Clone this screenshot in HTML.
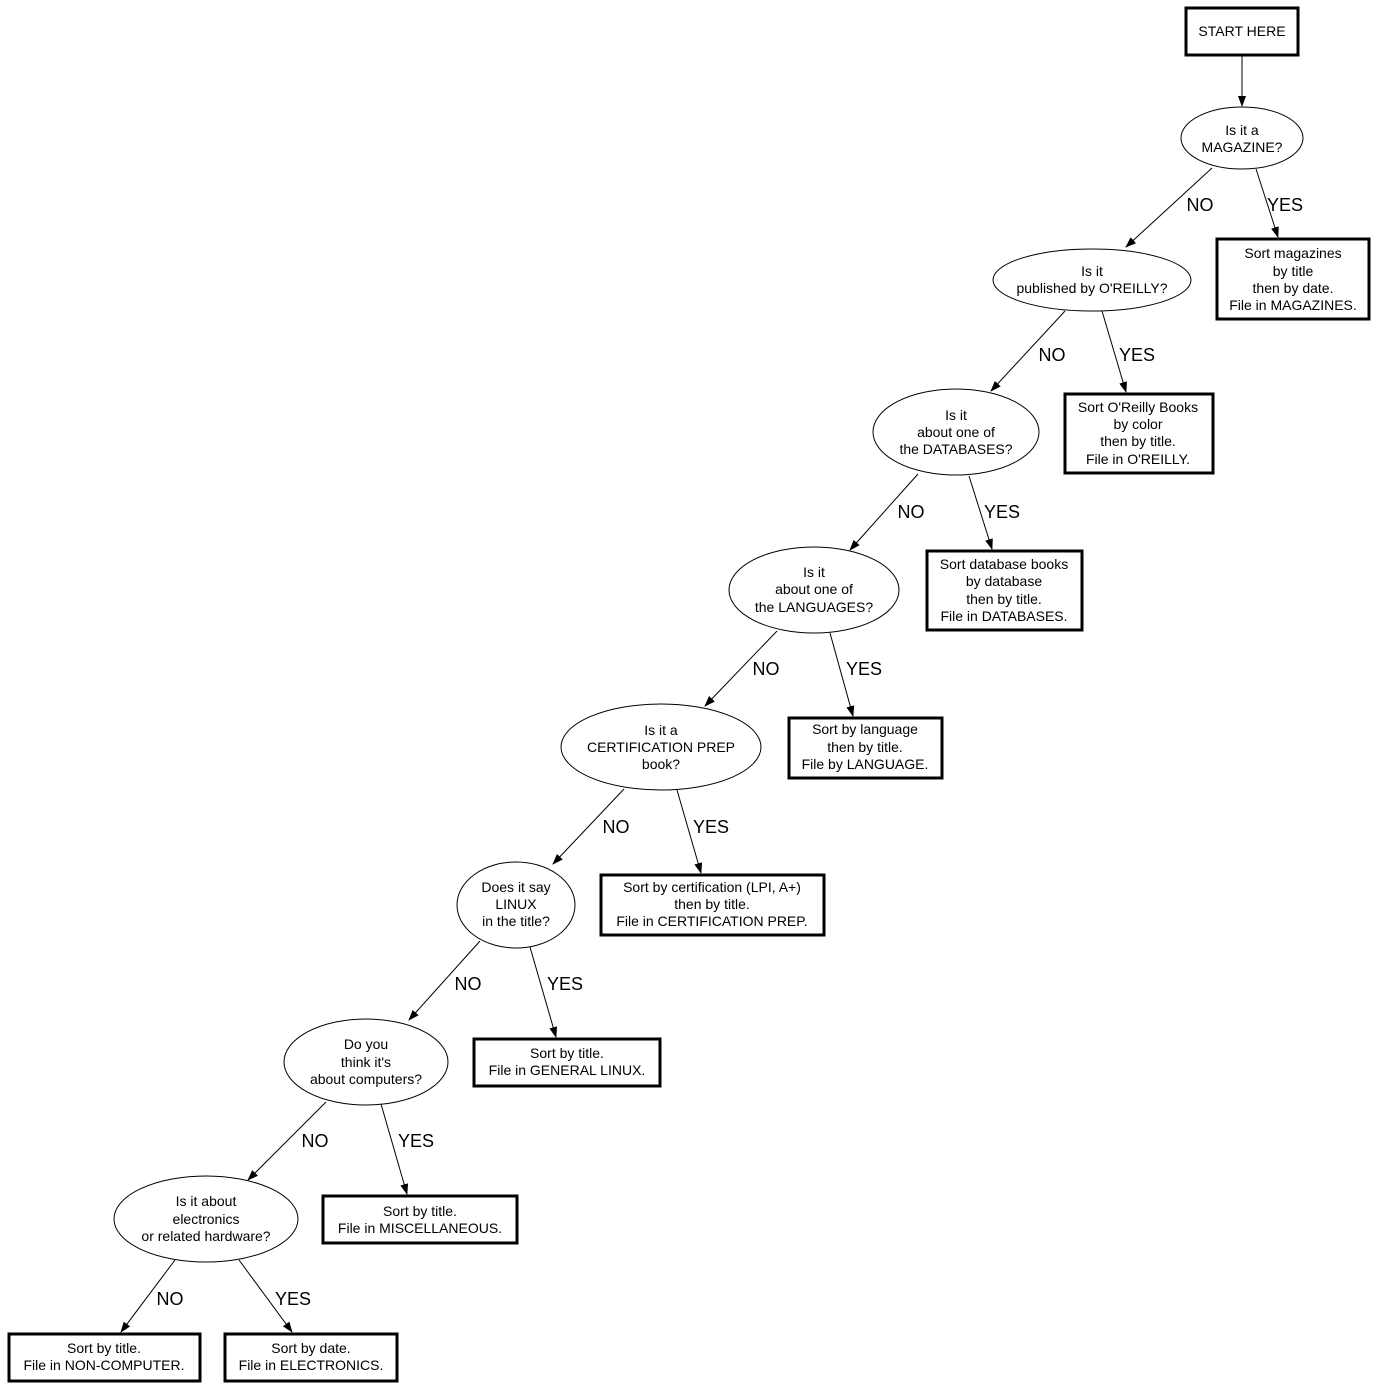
<!DOCTYPE html>
<html><head><meta charset="utf-8"><style>
html,body{margin:0;padding:0;background:#fff}
svg{display:block}
text{font-family:"Liberation Sans",sans-serif;font-size:14px;fill:#000;text-anchor:middle}
.l{font-size:18px;text-anchor:middle}
.b{fill:#fff;stroke:#000;stroke-width:3}
.e{fill:#fff;stroke:#000;stroke-width:1}
line{stroke:#000;stroke-width:1}
</style></head><body>
<svg width="1378" height="1388" viewBox="0 0 1378 1388" xmlns="http://www.w3.org/2000/svg">
<defs><marker id="a" markerWidth="11" markerHeight="8" refX="10" refY="4" orient="auto" markerUnits="userSpaceOnUse"><path d="M0,0 L11,4 L0,8 Z" fill="#000"/></marker></defs>

<rect class="b" x="1186" y="8" width="112" height="47"/>
<text x="1242" y="36">START HERE</text>

<ellipse class="e" cx="1242" cy="138" rx="61" ry="31"/>
<text x="1242" y="135">Is it a</text><text x="1242" y="152">MAGAZINE?</text>

<rect class="b" x="1217" y="239" width="152" height="80"/>
<text x="1293" y="258">Sort magazines</text><text x="1293" y="276">by title</text><text x="1293" y="293">then by date.</text><text x="1293" y="310">File in MAGAZINES.</text>

<ellipse class="e" cx="1092" cy="280" rx="99" ry="31"/>
<text x="1092" y="276">Is it</text><text x="1092" y="293">published by O'REILLY?</text>

<rect class="b" x="1065" y="394" width="148" height="79"/>
<text x="1138" y="412">Sort O'Reilly Books</text><text x="1138" y="429">by color</text><text x="1138" y="446">then by title.</text><text x="1138" y="464">File in O'REILLY.</text>

<ellipse class="e" cx="956" cy="432" rx="83" ry="43"/>
<text x="956" y="420">Is it</text><text x="956" y="437">about one of</text><text x="956" y="454">the DATABASES?</text>

<rect class="b" x="927" y="551" width="155" height="79"/>
<text x="1004" y="569">Sort database books</text><text x="1004" y="586">by database</text><text x="1004" y="604">then by title.</text><text x="1004" y="621">File in DATABASES.</text>

<ellipse class="e" cx="814" cy="590" rx="85" ry="43"/>
<text x="814" y="577">Is it</text><text x="814" y="594">about one of</text><text x="814" y="612">the LANGUAGES?</text>

<rect class="b" x="789" y="718" width="153" height="60"/>
<text x="865" y="734">Sort by language</text><text x="865" y="752">then by title.</text><text x="865" y="769">File by LANGUAGE.</text>

<ellipse class="e" cx="661" cy="747" rx="100" ry="43"/>
<text x="661" y="735">Is it a</text><text x="661" y="752">CERTIFICATION PREP</text><text x="661" y="769">book?</text>

<rect class="b" x="601" y="875" width="223" height="60"/>
<text x="712" y="892">Sort by certification (LPI, A+)</text><text x="712" y="909">then by title.</text><text x="712" y="926">File in CERTIFICATION PREP.</text>

<ellipse class="e" cx="516" cy="905" rx="59" ry="43"/>
<text x="516" y="892">Does it say</text><text x="516" y="909">LINUX</text><text x="516" y="926">in the title?</text>

<rect class="b" x="474" y="1039" width="186" height="47"/>
<text x="567" y="1058">Sort by title.</text><text x="567" y="1075">File in GENERAL LINUX.</text>

<ellipse class="e" cx="366" cy="1062" rx="82" ry="43"/>
<text x="366" y="1049">Do you</text><text x="366" y="1067">think it's</text><text x="366" y="1084">about computers?</text>

<rect class="b" x="323" y="1196" width="194" height="47"/>
<text x="420" y="1216">Sort by title.</text><text x="420" y="1233">File in MISCELLANEOUS.</text>

<ellipse class="e" cx="206" cy="1219" rx="92" ry="43"/>
<text x="206" y="1206">Is it about</text><text x="206" y="1224">electronics</text><text x="206" y="1241">or related hardware?</text>

<rect class="b" x="9" y="1334" width="191" height="47"/>
<text x="104" y="1353">Sort by title.</text><text x="104" y="1370">File in NON-COMPUTER.</text>

<rect class="b" x="225" y="1334" width="172" height="47"/>
<text x="311" y="1353">Sort by date.</text><text x="311" y="1370">File in ELECTRONICS.</text>

<g marker-end="url(#a)">
<line x1="1242" y1="56" x2="1242" y2="106"/>
<line x1="1212" y1="168" x2="1126" y2="247"/>
<line x1="1256" y1="169" x2="1278" y2="237"/>
<line x1="1065" y1="311" x2="991" y2="391"/>
<line x1="1102" y1="311" x2="1126" y2="392"/>
<line x1="918" y1="474" x2="850" y2="550"/>
<line x1="969" y1="476" x2="992" y2="549"/>
<line x1="777" y1="631" x2="705" y2="706"/>
<line x1="830" y1="633" x2="853" y2="716"/>
<line x1="624" y1="789" x2="553" y2="864"/>
<line x1="677" y1="790" x2="701" y2="873"/>
<line x1="480" y1="941" x2="409" y2="1020"/>
<line x1="530" y1="947" x2="556" y2="1037"/>
<line x1="326" y1="1102" x2="248" y2="1180"/>
<line x1="381" y1="1104" x2="407" y2="1194"/>
<line x1="175" y1="1260" x2="121" y2="1332"/>
<line x1="239" y1="1260" x2="292" y2="1332"/>
</g>

<text class="l" x="1200" y="211">NO</text><text class="l" x="1285" y="211">YES</text>
<text class="l" x="1052" y="361">NO</text><text class="l" x="1137" y="361">YES</text>
<text class="l" x="911" y="518">NO</text><text class="l" x="1002" y="518">YES</text>
<text class="l" x="766" y="675">NO</text><text class="l" x="864" y="675">YES</text>
<text class="l" x="616" y="833">NO</text><text class="l" x="711" y="833">YES</text>
<text class="l" x="468" y="990">NO</text><text class="l" x="565" y="990">YES</text>
<text class="l" x="315" y="1147">NO</text><text class="l" x="416" y="1147">YES</text>
<text class="l" x="170" y="1305">NO</text><text class="l" x="293" y="1305">YES</text>
</svg>
</body></html>
